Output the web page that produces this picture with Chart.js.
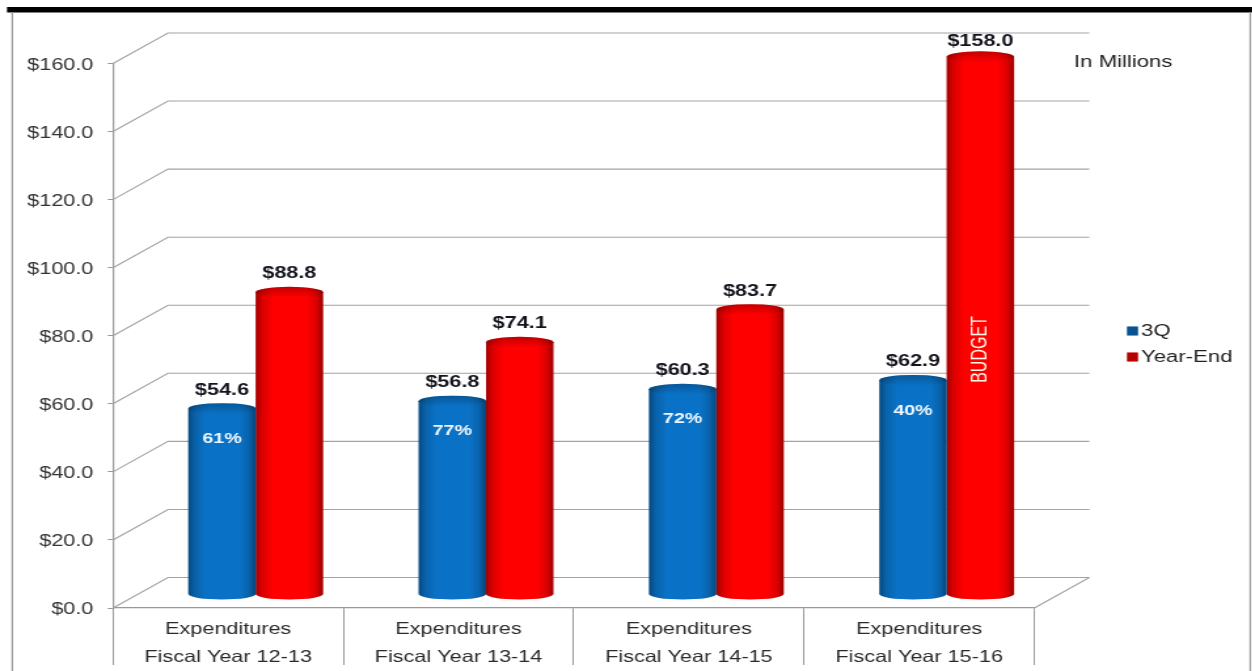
<!DOCTYPE html>
<html>
<head>
<meta charset="utf-8">
<title>Expenditures</title>
<script src="https://cdn.jsdelivr.net/npm/chart.js@4"></script>
<style>
    html, body { margin: 0; padding: 0; background: #fff; overflow: hidden; }
    /* the reference is a picture stretched sideways, so the whole canvas is too */
    #chart { position: absolute; left: 0; top: 0; transform-origin: 0 0; transform: scaleX(1.31); }
</style>
</head>
<body>
<canvas id="chart"></canvas>
<script>
const categories = [
    ["Expenditures", "Fiscal Year 12-13"],
    ["Expenditures", "Fiscal Year 13-14"],
    ["Expenditures", "Fiscal Year 14-15"],
    ["Expenditures", "Fiscal Year 15-16"]
];
const values3Q = [54.6, 56.8, 60.3, 62.9];
const valuesYearEnd = [88.8, 74.1, 83.7, 158.0];
const percentLabels = ["61%", "77%", "72%", "40%"];
const budgetLabel = "BUDGET";
const unitsNote = "In Millions";

const S = 1.31;
const FONT = "'Liberation Sans', Arial, sans-serif";
const canvas = document.getElementById("chart");
canvas.width = Math.round(1252 / S);
canvas.height = 671;

const BAR_DX = 27.5 / S, BAR_DY = -13.5, CAP_RY = 5.5;
const WALL_DX = 55 / S, WALL_DY = -30.5;
const GRID = "#a3a3a3";

function shade(ctx, left, right) {
    const g = ctx.createLinearGradient(left, 0, right, 0);
    g.addColorStop(0, "rgba(0,0,0,0.36)");
    g.addColorStop(0.1, "rgba(0,0,0,0.14)");
    g.addColorStop(0.26, "rgba(0,0,0,0)");
    g.addColorStop(0.76, "rgba(0,0,0,0)");
    g.addColorStop(0.9, "rgba(0,0,0,0.14)");
    g.addColorStop(1, "rgba(0,0,0,0.4)");
    return g;
}

const wallAndFrame = {
    id: "wallAndFrame",
    beforeDatasetsDraw(chart) {
        const ctx = chart.ctx, y = chart.scales.y, a = chart.chartArea;
        ctx.save();
        // frame of the slide
        ctx.fillStyle = "#000";
        ctx.fillRect(7 / S, 7, chart.width, 5.5);
        ctx.fillStyle = "#9a9a9a";
        ctx.fillRect(11.5 / S, 12, 1.2, chart.height);
        ctx.fillRect(1249.5 / S, 12, 1.2, chart.height);
        // back wall lines and their slanted side lines
        ctx.strokeStyle = GRID;
        ctx.lineWidth = 1.1;
        y.ticks.forEach(t => {
            const py = y.getPixelForValue(t.value);
            ctx.beginPath();
            ctx.moveTo(a.left, py);
            ctx.lineTo(a.left + WALL_DX, py + WALL_DY);
            ctx.lineTo(a.right + WALL_DX, py + WALL_DY);
            ctx.stroke();
        });
        ctx.beginPath();
        ctx.moveTo(a.right, a.bottom);
        ctx.lineTo(a.right + WALL_DX, a.bottom + WALL_DY);
        ctx.stroke();
        ctx.restore();
    }
};

const cylinders = {
    id: "cylinders",
    beforeDatasetDraw(chart) {
        chart.ctx.save();
        chart.ctx.translate(BAR_DX, BAR_DY);
    },
    afterDatasetDraw(chart, args) {
        const ctx = chart.ctx;
        const color = chart.data.datasets[args.index].backgroundColor;
        chart.getDatasetMeta(args.index).data.forEach(el => {
            const { x, y, base, width } = el.getProps(["x", "y", "base", "width"]);
            const l = x - width / 2, r = x + width / 2;
            // rounded foot
            ctx.beginPath();
            ctx.ellipse(x, base, width / 2, CAP_RY, 0, 0, Math.PI);
            ctx.closePath();
            ctx.fillStyle = color;
            ctx.fill();
            // side shading
            ctx.beginPath();
            ctx.moveTo(l, y);
            ctx.lineTo(l, base);
            ctx.ellipse(x, base, width / 2, CAP_RY, 0, Math.PI, 0, true);
            ctx.lineTo(r, y);
            ctx.closePath();
            ctx.fillStyle = shade(ctx, l, r);
            ctx.fill();
            // top cap, darker at the back and fading into the body
            ctx.beginPath();
            ctx.ellipse(x, y, width / 2, CAP_RY, 0, 0, Math.PI * 2);
            ctx.fillStyle = color;
            ctx.fill();
            ctx.fillStyle = shade(ctx, l, r);
            ctx.fill();
            const top = ctx.createLinearGradient(0, y - CAP_RY, 0, y + CAP_RY);
            top.addColorStop(0, "rgba(0,0,0,0.24)");
            top.addColorStop(1, "rgba(0,0,0,0)");
            ctx.fillStyle = top;
            ctx.fill();
        });
        ctx.restore();
    },
    afterDatasetsDraw(chart) {
        const ctx = chart.ctx;
        ctx.save();
        ctx.translate(BAR_DX, BAR_DY);
        ctx.textAlign = "center";
        ctx.textBaseline = "middle";
        chart.data.datasets.forEach((ds, i) => {
            chart.getDatasetMeta(i).data.forEach((el, j) => {
                ctx.fillStyle = "#14141e";
                ctx.font = "bold 16.5px " + FONT;
                ctx.fillText("$" + ds.data[j].toFixed(1), el.x, Math.max(el.y - CAP_RY - 13, 54.5));
                if (i === 0) {
                    ctx.fillStyle = "#eef6ff";
                    ctx.font = "bold 15px " + FONT;
                    ctx.fillText(percentLabels[j], el.x, el.y + 30);
                }
            });
        });
        const last = chart.getDatasetMeta(1).data[3];
        ctx.save();
        ctx.translate(last.x, chart.scales.y.getPixelForValue(72));
        ctx.rotate(-Math.PI / 2);
        ctx.fillStyle = "#fff8e8";
        ctx.font = "16px " + FONT;
        ctx.fillText(budgetLabel, 0, 0);
        ctx.restore();
        ctx.restore();

        // units note and legend
        ctx.save();
        ctx.textBaseline = "middle";
        ctx.fillStyle = "#222";
        ctx.font = "16.9px " + FONT;
        ctx.fillText(unitsNote, 1074 / S, 62);
        chart.data.datasets.forEach((ds, i) => {
            const ly = 331 + i * 26;
            ctx.fillStyle = ds.backgroundColor;
            ctx.fillRect(1127 / S, ly - 4.5, 11 / S, 9);
            ctx.fillStyle = "rgba(0,0,0,0.28)";
            ctx.fillRect(1127 / S, ly - 4.5, 11 / S, 9);
            ctx.fillStyle = "#222";
            ctx.fillText(ds.label, 1141 / S, ly);
        });
        ctx.restore();
    }
};

new Chart(canvas, {
    type: "bar",
    data: {
        labels: categories,
        datasets: [
            { label: "3Q", data: values3Q, backgroundColor: "#0a72c6", clip: false },
            { label: "Year-End", data: valuesYearEnd, backgroundColor: "#ff0000", clip: false }
        ]
    },
    options: {
        responsive: false,
        animation: false,
        categoryPercentage: 0.585,
        barPercentage: 1,
        layout: { padding: { top: 63.5, right: (1252 - 1034) / S, left: 0, bottom: 0 } },
        plugins: { legend: { display: false }, tooltip: { enabled: false } },
        scales: {
            x: {
                offset: true,
                afterFit(scale) { scale.height = 63; },
                border: { color: "#999", width: 1.2 },
                grid: { drawOnChartArea: false, color: "#999", tickLength: 57, offset: true, lineWidth: 1 },
                ticks: {
                    autoSkip: false,
                    maxRotation: 0,
                    padding: -50,
                    color: "#2a2a2a",
                    font: { family: FONT, size: 16.5, lineHeight: 1.7 }
                }
            },
            y: {
                min: 0,
                max: 160,
                afterFit(scale) { scale.width = 113 / S; },
                border: { color: "#999", width: 1.2 },
                grid: { drawOnChartArea: false, color: "#999", tickLength: 4 },
                ticks: {
                    stepSize: 20,
                    padding: 11,
                    labelOffset: 1.5,
                    color: "#333",
                    font: { family: FONT, size: 16.5 },
                    callback: v => "$" + v.toFixed(1)
                }
            }
        }
    },
    plugins: [wallAndFrame, cylinders]
});
</script>
</body>
</html>
